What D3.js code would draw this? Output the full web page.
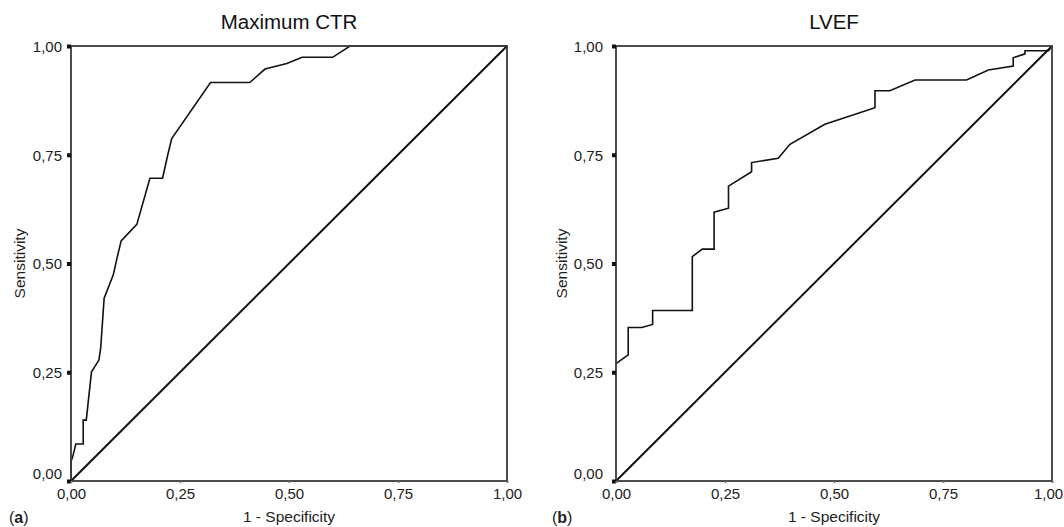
<!DOCTYPE html>
<html>
<head>
<meta charset="utf-8">
<script src="https://cdn.jsdelivr.net/npm/d3@7/dist/d3.min.js"></script>
<style>
  html, body { margin: 0; padding: 0; background: #fff; }
  svg { display: block; font-family: "Liberation Sans", Arial, Helvetica, sans-serif; }
</style>
</head>
<body>
<svg id="chart" width="1064" height="527"></svg>
<script>
// ROC curve for Maximum CTR: [1 - specificity, sensitivity]
const ctrFpr = [0, 0, 0.004, 0.011, 0.028, 0.028, 0.035, 0.047, 0.064, 0.068, 0.076, 0.097, 0.105, 0.115, 0.151, 0.181, 0.210, 0.222, 0.231, 0.320, 0.410, 0.445, 0.495, 0.530, 0.600, 0.640, 1];
const ctrTpr = [0, 0.045, 0.056, 0.085, 0.085, 0.140, 0.140, 0.251, 0.278, 0.305, 0.420, 0.474, 0.510, 0.552, 0.590, 0.696, 0.696, 0.750, 0.787, 0.916, 0.916, 0.947, 0.960, 0.974, 0.974, 1, 1];

// ROC curve for LVEF
const lvefFpr = [0, 0.028, 0.028, 0.059, 0.084, 0.084, 0.175, 0.175, 0.198, 0.225, 0.225, 0.258, 0.258, 0.311, 0.311, 0.372, 0.399, 0.479, 0.594, 0.594, 0.628, 0.686, 0.804, 0.854, 0.911, 0.911, 0.938, 0.938, 0.992, 1];
const lvefTpr = [0.270, 0.290, 0.353, 0.353, 0.360, 0.392, 0.392, 0.516, 0.533, 0.533, 0.618, 0.627, 0.678, 0.711, 0.732, 0.742, 0.774, 0.820, 0.858, 0.897, 0.897, 0.922, 0.922, 0.945, 0.954, 0.973, 0.982, 0.989, 0.989, 1];

// Reference (chance) line
const chanceFpr = [0, 1];
const chanceTpr = [0, 1];

const tickValues = [0, 0.25, 0.5, 0.75, 1];
const tickLabels = ["0,00", "0,25", "0,50", "0,75", "1,00"];

const panels = [
  { title: "Maximum CTR", tag: "a", fpr: ctrFpr, tpr: ctrTpr, x0: 71, x1: 507, pad: 9, ylab: 46, tagX: 62, lastShift: 0 },
  { title: "LVEF", tag: "b", fpr: lvefFpr, tpr: lvefTpr, x0: 616, x1: 1052, pad: 13, ylab: 49, tagX: 64, lastShift: -4 }
];

const plotTop = 46, plotBottom = 481;
const svg = d3.select("#chart");

panels.forEach(p => {
  const x = d3.scaleLinear().domain([0, 1]).range([p.x0, p.x1]);
  const y = d3.scaleLinear().domain([0, 1]).range([plotBottom, plotTop]);
  const g = svg.append("g");

  const line = d3.line().x(d => x(d[0])).y(d => y(d[1]));

  // chance diagonal
  g.append("path")
    .datum(d3.zip(chanceFpr, chanceTpr))
    .attr("d", line)
    .attr("fill", "none")
    .attr("stroke", "#111")
    .attr("stroke-width", 2);

  // ROC curve
  g.append("path")
    .datum(d3.zip(p.fpr, p.tpr))
    .attr("d", line)
    .attr("fill", "none")
    .attr("stroke", "#111")
    .attr("stroke-width", 1.6)
    .attr("stroke-linejoin", "miter");

  // frame
  g.append("rect")
    .attr("x", x(0)).attr("y", y(1))
    .attr("width", x(1) - x(0)).attr("height", y(0) - y(1))
    .attr("fill", "none")
    .attr("stroke", "#3a3a3a")
    .attr("stroke-width", 1.8);

  // y axis: square tick marks and labels
  const yAxis = d3.axisLeft(y)
    .tickValues(tickValues)
    .tickSize(0)
    .tickPadding(p.pad)
    .tickFormat((d, i) => tickLabels[i]);
  const ya = g.append("g").attr("transform", `translate(${x(0)},0)`).call(yAxis);
  ya.select(".domain").remove();
  ya.selectAll(".tick text")
    .attr("fill", "#222")
    .style("font-size", "15px")
    .attr("dy", (d, i) => i === 0 ? "-0.15em" : "0.36em");
  ya.selectAll(".tick").append("rect")
    .attr("x", -4).attr("y", -2).attr("width", 4).attr("height", 4)
    .attr("fill", "#111");

  // x axis
  const xAxis = d3.axisBottom(x)
    .tickValues(tickValues)
    .tickSize(2)
    .tickPadding(5)
    .tickFormat((d, i) => tickLabels[i]);
  const xa = g.append("g").attr("transform", `translate(0,${plotBottom})`).call(xAxis);
  xa.select(".domain").remove();
  xa.selectAll(".tick line").attr("stroke", "#777").attr("stroke-width", 2);
  xa.selectAll(".tick text")
    .attr("fill", "#222")
    .style("font-size", "15px")
    .attr("dx", (d, i) => i === tickValues.length - 1 ? p.lastShift : 0);

  // title
  g.append("text")
    .attr("x", (x(0) + x(1)) / 2).attr("y", 29)
    .attr("text-anchor", "middle")
    .style("font-size", "20.5px")
    .attr("fill", "#111")
    .text(p.title);

  // axis titles
  g.append("text")
    .attr("x", (x(0) + x(1)) / 2).attr("y", 522)
    .attr("text-anchor", "middle")
    .style("font-size", "15.5px")
    .attr("fill", "#222")
    .text("1 - Specificity");

  g.append("text")
    .attr("transform", `translate(${p.x0 - p.ylab},${(plotTop + plotBottom) / 2}) rotate(-90)`)
    .attr("text-anchor", "middle")
    .style("font-size", "15.5px")
    .attr("fill", "#222")
    .text("Sensitivity");

  // panel tag
  const tag = g.append("text")
    .attr("x", p.x0 - p.tagX).attr("y", 523)
    .style("font-size", "16px")
    .attr("fill", "#222");
  tag.append("tspan").text("(");
  tag.append("tspan").style("font-weight", "bold").text(p.tag);
  tag.append("tspan").text(")");
});
</script>
</body>
</html>
